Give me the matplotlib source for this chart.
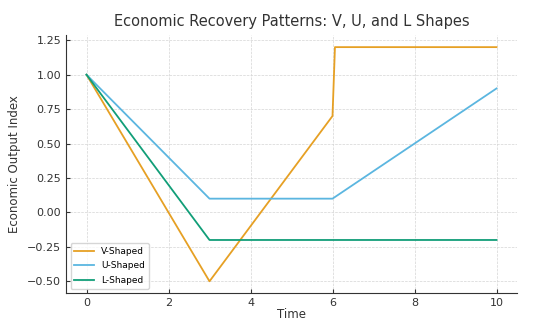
import numpy as np
import matplotlib.pyplot as plt

# recovery paths, piecewise-linear between these knots
time_v = [0, 3, 6, 6.06, 10]
output_v = [1.0, -0.5, 0.7, 1.2, 1.2]

time_u = [0, 3, 6, 10]
output_u = [1.0, 0.1, 0.1, 0.9]

time_l = [0, 3, 10]
output_l = [1.0, -0.2, -0.2]

plt.rcParams.update({
    "font.family": "DejaVu Sans",
    "axes.titlesize": 10.5,
    "axes.labelsize": 8.5,
    "xtick.labelsize": 8,
    "ytick.labelsize": 8,
    "legend.fontsize": 6.5,
})

fig, ax = plt.subplots(figsize=(5.5, 3.22), dpi=100)
fig.subplots_adjust(left=0.12, right=0.94, top=0.89, bottom=0.09)

ax.plot(time_v, output_v, color="#E6A024", lw=1.3, label="V-Shaped")
ax.plot(time_u, output_u, color="#5BB6E0", lw=1.3, label="U-Shaped")
ax.plot(time_l, output_l, color="#119E78", lw=1.3, label="L-Shaped")

ax.set_title("Economic Recovery Patterns: V, U, and L Shapes", color="#333333", pad=7)
ax.set_xlabel("Time", color="#333333", labelpad=0)
ax.set_ylabel("Economic Output Index", color="#333333")
ax.set_xticks(np.arange(0, 11, 2))
ax.set_yticks(np.arange(-0.5, 1.26, 0.25))

ax.grid(True, ls="--", lw=0.5, color="#d5d5d5")
ax.tick_params(direction="in", colors="#333333", length=3)
for side in ("top", "right"):
    ax.spines[side].set_visible(False)
for side in ("left", "bottom"):
    ax.spines[side].set_color("#333333")
    ax.spines[side].set_linewidth(0.8)

ax.legend(loc="lower left", frameon=True, handlelength=2.2, labelspacing=0.6)

fig.savefig("out.png", dpi=100)
